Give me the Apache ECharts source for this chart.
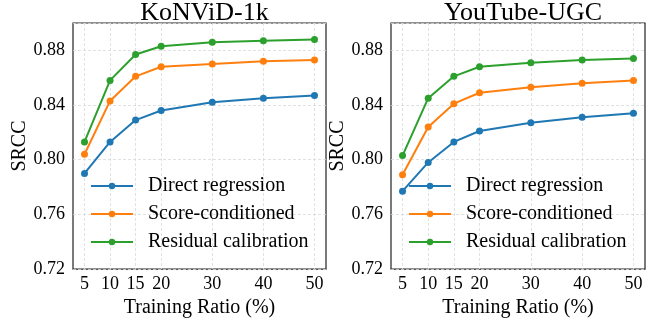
<!DOCTYPE html>
<html>
<head>
<meta charset="utf-8">
<script src="https://cdn.jsdelivr.net/npm/echarts@6/dist/echarts.min.js"></script>
<style>
  html, body { margin: 0; padding: 0; background: #fff; }
  #chart { width: 667px; height: 323px; }
</style>
</head>
<body>
<div id="chart"></div>
<script>
// training ratios (%)
const ratios = [5, 10, 15, 20, 30, 40, 50];

const methods = ['Direct regression', 'Score-conditioned', 'Residual calibration'];
const colors = ['#1f77b4', '#ff7f0e', '#2ca02c'];

// KoNViD-1k
const konDirect = [0.790, 0.813, 0.829, 0.836, 0.842, 0.845, 0.847];
const konScore = [0.804, 0.843, 0.861, 0.868, 0.870, 0.872, 0.873];
const konResidual = [0.813, 0.858, 0.877, 0.883, 0.886, 0.887, 0.888];

// YouTube-UGC
const ytDirect = [0.777, 0.798, 0.813, 0.821, 0.827, 0.831, 0.834];
const ytScore = [0.789, 0.824, 0.841, 0.849, 0.853, 0.856, 0.858];
const ytResidual = [0.803, 0.845, 0.861, 0.868, 0.871, 0.873, 0.874];

const panels = [
  { title: 'KoNViD-1k', data: [konDirect, konScore, konResidual], left: 73, width: 253 },
  { title: 'YouTube-UGC', data: [ytDirect, ytScore, ytResidual], left: 391, width: 254 }
];

const font = 'Liberation Serif';
const chart = echarts.init(document.getElementById('chart'), null, { renderer: 'canvas' });

const gridLine = { show: true, lineStyle: { color: '#d9d9d9', width: 0.8, type: [3, 2] } };

const option = {
  animation: false,
  textStyle: { fontFamily: font },
  title: panels.map(p => ({
    text: p.title,
    left: p.left + p.width / 2,
    textAlign: 'center',
    top: -5,
    textStyle: { fontFamily: font, fontSize: 26, fontWeight: 'normal', color: '#000' }
  })),
  grid: panels.map(p => ({
    left: p.left, top: 23, width: p.width, height: 248,
    show: true, borderColor: '#222', borderWidth: 1.2, backgroundColor: 'transparent'
  })),
  legend: panels.map(p => ({
    data: methods,
    orient: 'vertical',
    left: p.left + 17,
    top: 176,
    padding: 0,
    itemWidth: 42,
    itemHeight: 8,
    itemGap: 8,
    textStyle: { fontFamily: font, fontSize: 20, lineHeight: 20, color: '#000', padding: [0, 0, 0, 10] }
  })),
  xAxis: panels.map((p, i) => ({
    type: 'value',
    gridIndex: i,
    min: 2.75,
    max: 52.25,
    name: 'Training Ratio (%)',
    nameLocation: 'middle',
    nameGap: 17,
    nameTextStyle: { fontFamily: font, fontSize: 20, color: '#000' },
    axisLine: { show: false },
    axisTick: { show: false, customValues: ratios },
    axisLabel: { customValues: ratios, fontFamily: font, fontSize: 18, color: '#000', margin: 6 },
    splitLine: Object.assign({ customValues: ratios }, gridLine)
  })),
  yAxis: panels.map((p, i) => ({
    type: 'value',
    gridIndex: i,
    min: 0.72,
    max: 0.90,
    interval: 0.04,
    name: 'SRCC',
    nameLocation: 'middle',
    nameGap: 34,
    nameTextStyle: { fontFamily: font, fontSize: 20, color: '#000' },
    axisLine: { show: false },
    axisTick: { show: false },
    axisLabel: {
      showMaxLabel: false,
      fontFamily: font, fontSize: 18, color: '#000', margin: 8,
      formatter: v => v.toFixed(2)
    },
    splitLine: gridLine
  })),
  series: []
};

panels.forEach((p, i) => {
  p.data.forEach((vals, k) => {
    option.series.push({
      name: methods[k],
      type: 'line',
      xAxisIndex: i,
      yAxisIndex: i,
      data: ratios.map((r, j) => [r, vals[j]]),
      color: colors[k],
      symbol: 'circle',
      symbolSize: 7,
      lineStyle: { width: 2 },
      itemStyle: { color: colors[k] }
    });
  });
});

chart.setOption(option);
</script>
</body>
</html>
